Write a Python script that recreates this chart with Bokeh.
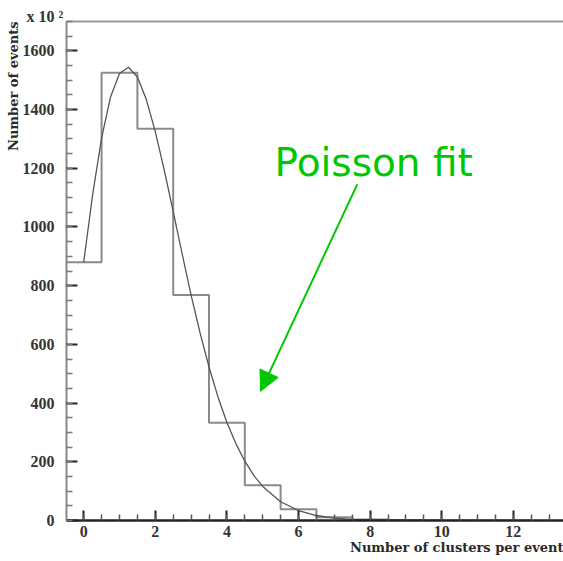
from bokeh.plotting import figure
from bokeh.models import (Range1d, LinearAxis, SingleIntervalTicker, FixedTicker,
                          Label, Arrow, NormalHead, Title)
from bokeh.embed import file_html
from bokeh.resources import INLINE

# ---- data ----
bin_edges = [-0.5, 0.5, 1.5, 2.5, 3.5, 4.5, 5.5, 6.5, 7.5, 8.5, 9.5, 10.5, 11.5, 12.5]
bin_counts = [880, 1525, 1335, 768, 333, 120, 38, 11, 3, 1, 0, 0, 0]

fit_x = [0.0, 0.25, 0.5, 0.75, 1.0, 1.25, 1.5, 1.75, 2.0, 2.25, 2.5, 2.75, 3.0,
         3.25, 3.5, 3.75, 4.0, 4.25, 4.5, 4.75, 5.0, 5.5, 6.0, 6.5, 7.0, 7.5,
         8.0, 9.0, 10.0]
fit_y = [880, 1110, 1303, 1443, 1523, 1544, 1511, 1434, 1325, 1194, 1052, 908,
         768, 639, 523, 421, 334, 262, 202, 154, 116, 64, 34, 17, 8.4, 4.0,
         1.8, 0.4, 0.1]

y_scale_label = "x 10 \u00b2"
y_title = "Number of events"
x_title = "Number of clusters per event"
note = "Poisson fit"

GREEN = "#00c800"
SERIF = "Liberation Serif"

p = figure(width=563, height=561, output_backend="svg", toolbar_location=None,
           x_range=Range1d(-0.48, 13.4), y_range=Range1d(0, 1700),
           x_axis_location=None, y_axis_location=None,
           min_border_left=66, min_border_right=0, min_border_top=21,
           min_border_bottom=41)
p.background_fill_color = "white"
p.border_fill_color = "white"
p.outline_line_color = None
p.xgrid.visible = False
p.ygrid.visible = False

# left axis
yax = LinearAxis(ticker=SingleIntervalTicker(interval=200, num_minor_ticks=4))
yax.axis_line_color = "#888888"
yax.axis_line_width = 2
yax.major_tick_in = 11
yax.major_tick_out = 0
yax.minor_tick_in = 6
yax.minor_tick_out = 0
yax.major_tick_line_color = "#222222"
yax.major_tick_line_width = 2
yax.minor_tick_line_color = "#777777"
yax.minor_tick_line_width = 1.5
yax.major_label_standoff = 12
yax.major_label_text_font = SERIF
yax.major_label_text_font_style = "bold"
yax.major_label_text_font_size = "16px"
yax.major_label_text_color = "#333333"
p.add_layout(yax, "left")

# bottom axis
xax = LinearAxis(ticker=SingleIntervalTicker(interval=2, num_minor_ticks=4))
xax.axis_line_color = "#222222"
xax.axis_line_width = 2.5
xax.major_tick_in = 10
xax.major_tick_out = 0
xax.minor_tick_in = 6
xax.minor_tick_out = 0
xax.major_tick_line_color = "#222222"
xax.major_tick_line_width = 2
xax.minor_tick_line_color = "#555555"
xax.minor_tick_line_width = 1.5
xax.major_label_standoff = 5
xax.major_label_text_font = SERIF
xax.major_label_text_font_style = "bold"
xax.major_label_text_font_size = "16px"
xax.major_label_text_color = "#333333"
p.add_layout(xax, "below")

# top frame line
tax = LinearAxis(ticker=FixedTicker(ticks=[]))
tax.axis_line_color = "#999999"
tax.axis_line_width = 2
tax.major_tick_in = 0
tax.major_tick_out = 0
tax.minor_tick_in = 0
tax.minor_tick_out = 0
p.add_layout(tax, "above")

# titles outside the frame
p.add_layout(Title(text=y_title, align="right", standoff=-6,
                   vertical_align="top",
                   text_font="DejaVu Serif", text_font_size="13px",
                   text_font_style="bold", text_color="#2a2a2a"), "left")
p.add_layout(Title(text=x_title, align="right", standoff=0,
                   vertical_align="top",
                   text_font="DejaVu Serif", text_font_size="13px",
                   text_font_style="bold", text_color="#2a2a2a"), "below")
p.add_layout(Title(text=y_scale_label, align="left", offset=-40, standoff=-6,
                   text_font=SERIF, text_font_size="16px",
                   text_font_style="bold", text_color="#333333"), "above")

# histogram outline
p.step(x=bin_edges, y=bin_counts + [bin_counts[-1]], mode="after",
       line_color="#8a8a8a", line_width=2)

# fit curve
p.line(x=fit_x, y=fit_y, line_color="#555555", line_width=1.3)

# annotation
p.add_layout(Label(x=5.33, y=1220, text=note, text_font="DejaVu Sans",
                   text_font_size="39px", text_color=GREEN,
                   text_baseline="alphabetic", text_align="left"))
p.add_layout(Arrow(end=NormalHead(size=20, fill_color=GREEN, line_color=GREEN),
                   x_start=7.64, y_start=1145, x_end=4.94, y_end=440,
                   line_color=GREEN, line_width=2))

open("out.html", "w").write(file_html(p, INLINE))
